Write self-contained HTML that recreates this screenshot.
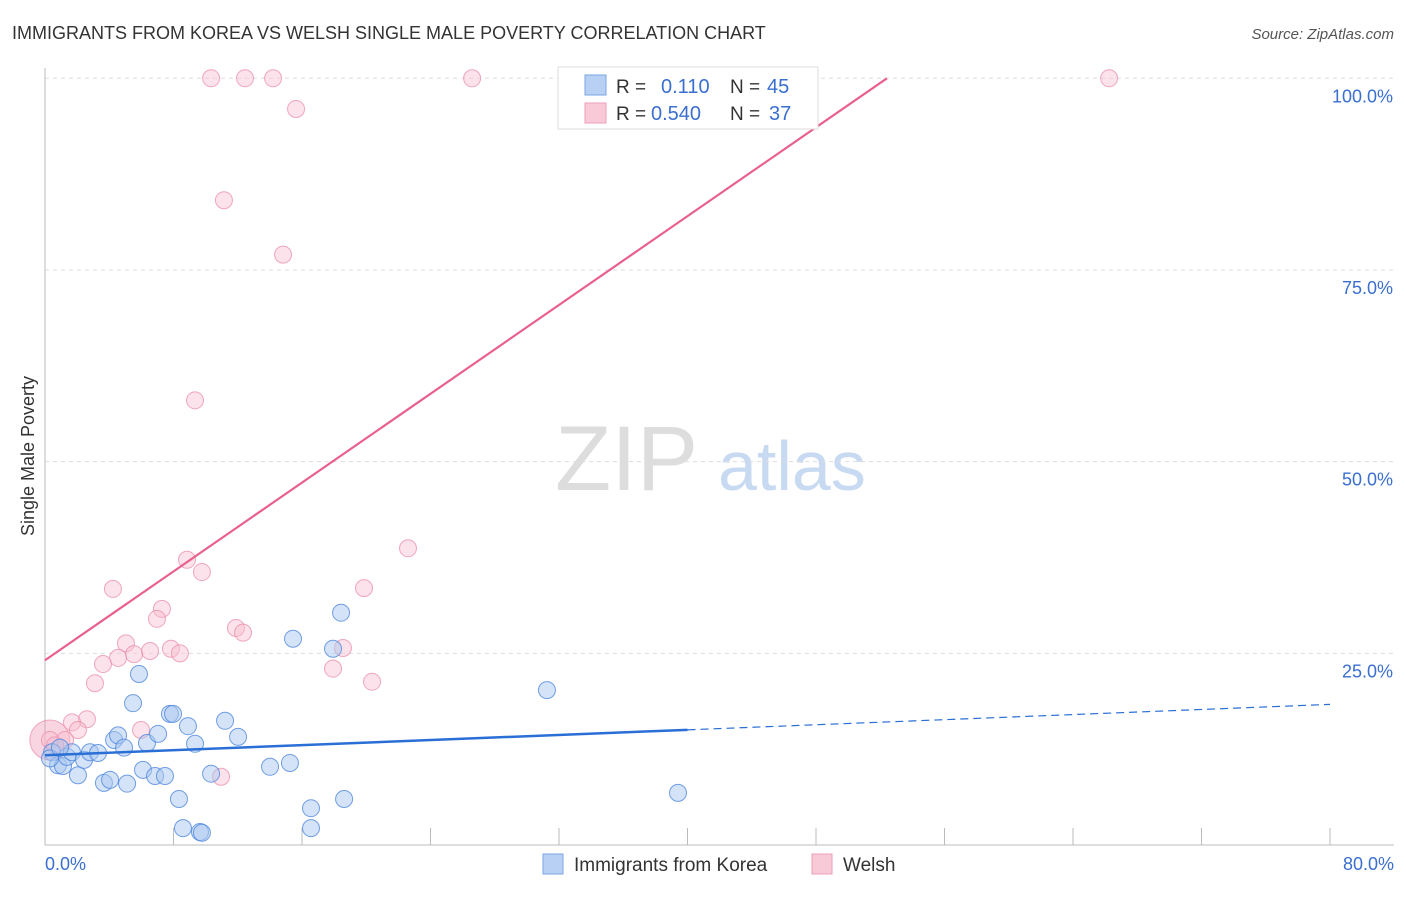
<!DOCTYPE html>
<html><head><meta charset="utf-8"><style>
body{margin:0;background:#fff;font-family:"Liberation Sans",sans-serif;}
svg text{font-family:"Liberation Sans",sans-serif;}
</style></head><body>
<svg id="chart" width="1406" height="892" xmlns="http://www.w3.org/2000/svg">
<text x="12" y="39" font-size="18" fill="#333">IMMIGRANTS FROM KOREA VS WELSH SINGLE MALE POVERTY CORRELATION CHART</text>
<text x="1394" y="39" font-size="15" fill="#555" font-style="italic" text-anchor="end">Source: ZipAtlas.com</text>
<text x="555" y="490" font-size="92" fill="#ddd" font-family="Liberation Serif">ZIP</text>
<text x="718" y="490" font-size="70" fill="#c8daf2">atlas</text>
<g id="grid"></g><g id="axes"></g><g id="pts"></g><g id="lines"></g>
<text transform="translate(34,456) rotate(-90)" font-size="18" fill="#333" text-anchor="middle">Single Male Poverty</text>
<text x="45" y="870" font-size="18" fill="#3a6fd0">0.0%</text>
<text x="1394" y="870" font-size="18" fill="#3a6fd0" text-anchor="end">80.0%</text>
<g>
<rect x="558" y="67" width="260" height="62" fill="#fff" stroke="#ddd"/>
<rect x="585" y="75" width="21" height="20" fill="#b7d0f3" stroke="#7aa6e6"/>
<rect x="585" y="103" width="21" height="20" fill="#f8c9d7" stroke="#ee9fb8"/>
<text x="616" y="93" font-size="19" fill="#333">R =</text><text x="661" y="93" font-size="20" fill="#3a6fd0">0.110</text>
<text x="730" y="93" font-size="19" fill="#333">N =</text><text x="767" y="93" font-size="20" fill="#3a6fd0">45</text>
<text x="616" y="120" font-size="19" fill="#333">R =</text><text x="651" y="120" font-size="20" fill="#3a6fd0">0.540</text>
<text x="730" y="120" font-size="19" fill="#333">N =</text><text x="769" y="120" font-size="20" fill="#3a6fd0">37</text>
</g>
<g>
<rect x="543" y="854" width="20" height="20" fill="#b7d0f3" stroke="#7aa6e6"/>
<text x="574" y="871" font-size="19" fill="#333">Immigrants from Korea</text>
<rect x="812" y="854" width="20" height="20" fill="#f8c9d7" stroke="#ee9fb8"/>
<text x="843" y="871" font-size="19" fill="#333">Welsh</text>
</g>
</svg>
<script>
const koreaX=[0.44,0.81,1.12,1.37,1.68,2.05,2.43,2.80,3.30,3.67,4.05,4.30,4.55,4.92,5.11,5.48,5.85,6.10,6.35,6.85,7.04,7.47,7.78,7.97,8.34,8.59,8.90,9.34,9.65,9.77,10.34,11.21,12.02,14.01,15.25,15.44,16.56,16.56,17.93,18.43,18.62,31.25,39.41,0.31,0.93];
const koreaY=[12.1,10.4,10.3,11.5,12.1,9.1,11.1,12.1,12.0,8.1,8.5,13.7,14.3,12.7,8.0,18.5,22.3,9.8,13.3,9.0,14.5,9.0,17.1,17.1,6.0,2.2,15.5,13.2,1.7,1.6,9.3,16.2,14.1,10.2,10.7,26.9,4.8,2.2,25.6,30.3,6.0,20.2,6.8,11.3,12.7];
const welshX=[10.34,12.45,14.20,26.59,66.25,15.63,11.14,14.82,9.34,22.60,8.84,9.77,4.23,19.86,7.28,6.97,11.89,12.33,5.04,18.55,6.54,7.84,8.40,5.54,4.55,3.61,17.93,3.11,20.36,5.98,2.61,1.68,2.05,1.25,0.31,10.96,0.62];
const welshY=[100,100,100,100,100,96.0,84.1,77.0,58.0,38.7,37.2,35.6,33.4,33.5,30.8,29.5,28.3,27.7,26.3,25.7,25.3,25.6,25.0,24.9,24.4,23.6,23.0,21.1,21.3,15.0,16.4,16.0,15.0,13.7,13.7,8.9,13.0];
const yTicks=[25,50,75,100];
const yTickLabels=["25.0%","50.0%","75.0%","100.0%"];
const xTicks=[0,8,16,24,32,40,48,56,64,72,80];
const koreaTrend=[11.7,0.083]; // intercept, slope
const welshTrend=[24.1,1.448];
const NS='http://www.w3.org/2000/svg';
const sx=v=>45+v*1285/80, sy=v=>845-v*7.667;
function mk(tag,attrs,parent){const e=document.createElementNS(NS,tag);for(const k in attrs)e.setAttribute(k,attrs[k]);parent.appendChild(e);return e;}
const grid=document.getElementById('grid'),axes=document.getElementById('axes'),pts=document.getElementById('pts'),lines=document.getElementById('lines');
yTicks.forEach((t,i)=>{
 const l=mk('line',{x1:45,x2:1394,y1:sy(t),y2:sy(t),stroke:'#ddd','stroke-dasharray':'4,4'},grid);
 
 
 const tx=mk('text',{x:1393,y:sy(t)+24,'font-size':18,fill:'#3a6fd0','text-anchor':'end'},grid);
 tx.textContent=yTickLabels[i];
 
 
});
const ya=mk('line',{x1:45,x2:45,y1:68,y2:845,stroke:'#bbb'},axes);


const xa=mk('line',{x1:45,x2:1394,y1:845,y2:845,stroke:'#bbb'},axes);


xTicks.forEach(t=>{
 const l=mk('line',{x1:sx(t),x2:sx(t),y1:828,y2:845,stroke:'#bbb'},axes);
 
 
});
const big1=mk('circle',{cx:sx(0.3),cy:sy(13.7),r:20,fill:'rgba(240,150,180,0.4)',stroke:'rgba(230,120,160,0.6)'},pts);


welshX.forEach((x,i)=>{
 const c=mk('circle',{cx:sx(x),cy:sy(welshY[i]),r:8.5,fill:'rgba(248,190,208,0.45)',stroke:'rgba(235,140,170,0.75)'},pts);
 
 
});
koreaX.forEach((x,i)=>{
 const c=mk('circle',{cx:sx(x),cy:sy(koreaY[i]),r:8.5,fill:'rgba(170,200,240,0.5)',stroke:'rgba(70,130,220,0.75)'},pts);
 
 
});
const kl=mk('line',{x1:sx(0),y1:sy(koreaTrend[0]),x2:sx(40),y2:sy(koreaTrend[0]+koreaTrend[1]*40),stroke:'#2a6fd6','stroke-width':2.5},lines);


const kd=mk('line',{x1:sx(40),y1:sy(koreaTrend[0]+koreaTrend[1]*40),x2:sx(80),y2:sy(koreaTrend[0]+koreaTrend[1]*80),stroke:'#2a6fd6','stroke-width':1.2,'stroke-dasharray':'8,5'},lines);


const wEnd=(100-welshTrend[0])/welshTrend[1];
const wl=mk('line',{x1:sx(0),y1:sy(welshTrend[0]),x2:sx(wEnd),y2:sy(100),stroke:'#e8608c','stroke-width':2.2},lines);


</script>
</body></html>
